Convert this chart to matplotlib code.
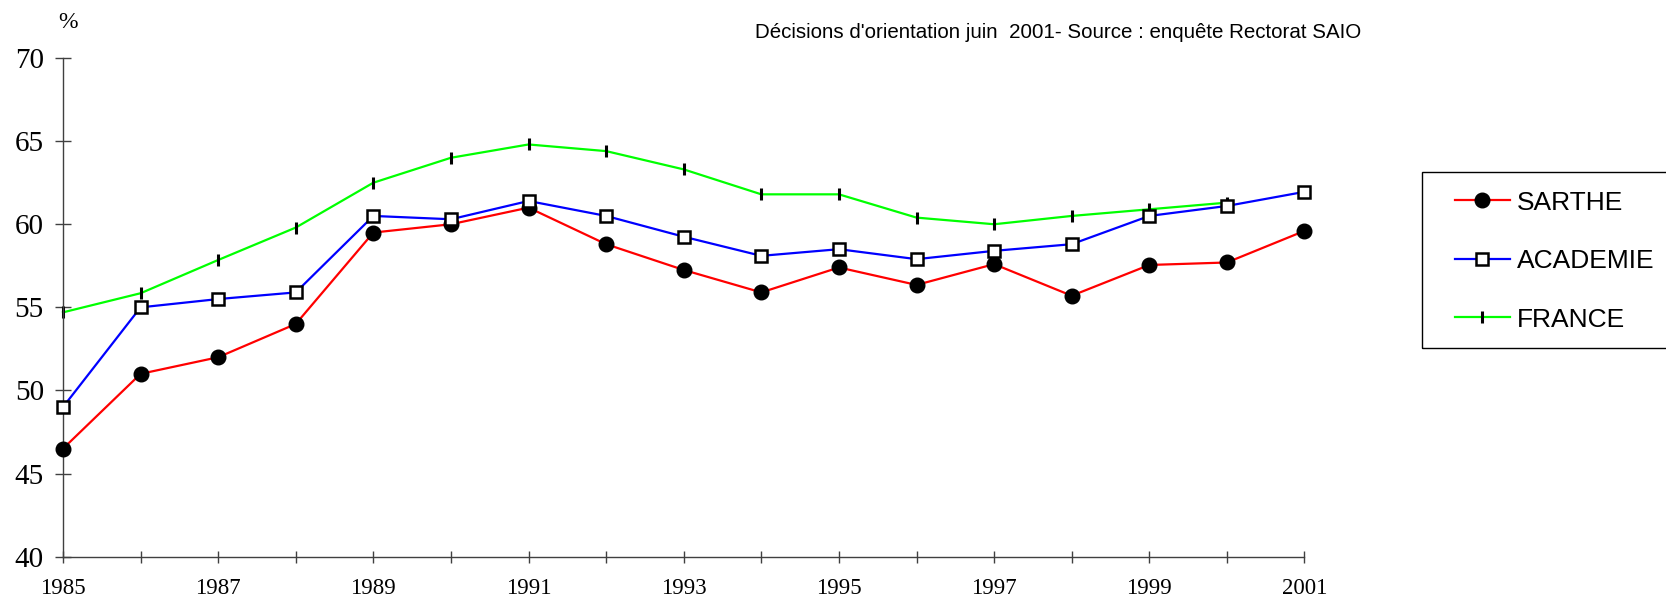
import numpy as np
import matplotlib
matplotlib.use("Agg")
import matplotlib.pyplot as plt
from matplotlib.patches import Rectangle

# Décisions d'orientation - taux (%) par année
years = list(range(1985, 2002))
sarthe = [46.5, 51.0, 52.0, 54.0, 59.5, 60.0, 61.0, 58.8, 57.25, 55.9, 57.4,
          56.35, 57.6, 55.7, 57.55, 57.7, 59.6]
academie = [49.0, 55.0, 55.5, 55.9, 60.5, 60.3, 61.4, 60.5, 59.25, 58.1, 58.5,
            57.9, 58.4, 58.8, 60.5, 61.1, 61.95]
france = [54.7, 55.85, 57.85, 59.8, 62.5, 64.0, 64.8, 64.4, 63.3, 61.8, 61.8,
          60.4, 60.0, 60.5, 60.9, 61.3, np.nan]
xlabels = [str(y) if y % 2 == 1 else '' for y in years]
yticks = [40, 45, 50, 55, 60, 65, 70]

fig = plt.figure(figsize=(16.66, 5.97), dpi=100)
ax = fig.add_axes([0.0378, 0.0675, 0.7452, 0.8353])

ax.plot(years, sarthe, color='#ff0000', lw=1.6, marker='o', ms=10.5,
        mfc='black', mec='black', label='SARTHE', zorder=3, clip_on=False)
ax.plot(years, academie, color='#0000ff', lw=1.6, marker='s', ms=9,
        mfc='white', mec='black', mew=1.8, label='ACADEMIE', zorder=3, clip_on=False)
ax.plot(years, france, color='#00ff00', lw=1.6, marker='|', ms=9,
        mec='black', mew=2.2, label='FRANCE', zorder=2, clip_on=False)

ax.set_xlim(1985, 2001)
ax.set_ylim(40, 70)
ax.set_xticks(years)
ax.set_xticklabels(xlabels, family='Liberation Serif', fontsize=16.5)
ax.set_yticks(yticks)
ax.set_yticklabels([str(v) for v in yticks], family='Liberation Serif', fontsize=21)

for s in ['top', 'right']:
    ax.spines[s].set_visible(False)
for s in ['left', 'bottom']:
    ax.spines[s].set_color('#404040')
    ax.spines[s].set_linewidth(1.0)
ax.tick_params(axis='y', direction='inout', length=11.5, width=1.0, color='#404040', pad=8)
ax.tick_params(axis='x', direction='inout', length=9, width=1.0, color='#404040', pad=11)

fig.text(0.041, 0.963, '%', family='Liberation Serif', fontsize=17, ha='center', va='center')
fig.text(0.635, 0.945, "Décisions d'orientation juin  2001- Source : enquête Rectorat SAIO",
         family='Liberation Sans', fontsize=14.8, ha='center', va='center')

# legend box runs off the right edge, as in the original
fig.patches.append(Rectangle((0.8535, 1 - 348 / 597), 0.2, 176 / 597, transform=fig.transFigure,
                             fill=False, edgecolor='black', linewidth=1.0))
leg = ax.legend(loc='upper left', bbox_to_anchor=(1455 / 1666, 1 - 190.5 / 597),
                bbox_transform=fig.transFigure,
                prop={'family': 'Liberation Sans', 'size': 19}, frameon=False,
                handlelength=2.08, labelspacing=1.31, borderpad=0, handletextpad=0.27,
                borderaxespad=0)

fig.savefig('out.png', dpi=100)
